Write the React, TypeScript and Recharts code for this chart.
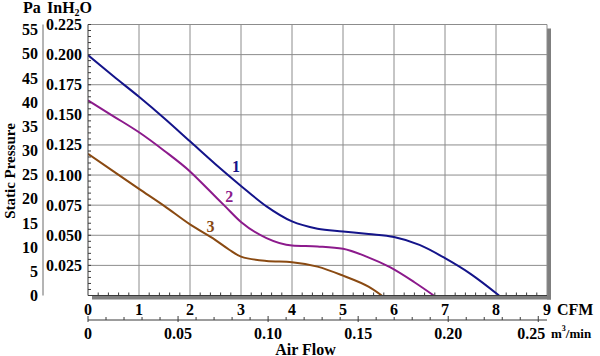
import { LineChart, Line, XAxis, YAxis, ReferenceLine, ReferenceArea, ReferenceDot, Label } from 'recharts';

/* fan P-Q curves: static pressure (inH2O / Pa) against air flow (CFM / m³/min) */

const CFM_PER_M3 = 35.3147;
const PA_PER_IN = 249.09;

const CFM_TICKS = [0, 1, 2, 3, 4, 5, 6, 7, 8, 9];
const M3_TICKS = [0, 0.05, 0.1, 0.15, 0.2, 0.25];
const M3_LABELS = ['0', '0.05', '0.10', '0.15', '0.20', '0.25'];
const IN_TICKS = [0.025, 0.05, 0.075, 0.1, 0.125, 0.15, 0.175, 0.2, 0.225];
const IN_LABELS = ['0.025', '0.050', '0.075', '0.100', '0.125', '0.150', '0.175', '0.200', '0.225'];
const PA_TICKS = [0, 5, 10, 15, 20, 25, 30, 35, 40, 45, 50, 55];

// curve 1
const C1_CFM = [0, 0.5, 1, 1.5, 2, 2.5, 3, 3.5, 4, 4.5, 5, 5.5, 6, 6.5, 7, 7.5, 8.06];
const C1_IN = [0.1995, 0.182, 0.165, 0.147, 0.128, 0.109, 0.091, 0.074, 0.0615, 0.0555, 0.0532, 0.051, 0.0485, 0.042, 0.031, 0.018, 0];
// curve 2
const C2_CFM = [0, 0.5, 1, 1.5, 2, 2.36, 2.69, 3, 3.5, 4, 4.5, 5, 5.46, 5.92, 6.4, 6.78];
const C2_IN = [0.162, 0.1488, 0.1355, 0.12, 0.103, 0.088, 0.074, 0.061, 0.0477, 0.0415, 0.0407, 0.0388, 0.0323, 0.0235, 0.011, 0];
// curve 3
const C3_CFM = [0, 0.5, 1, 1.5, 2, 2.5, 2.77, 3, 3.5, 4, 4.5, 5, 5.5, 5.76];
const C3_IN = [0.1177, 0.103, 0.0885, 0.0742, 0.059, 0.046, 0.038, 0.0323, 0.0287, 0.0277, 0.024, 0.0165, 0.0073, 0];

const CURVE_NAMES = ['1', '2', '3'];
const CURVE_COLORS = ['#14148a', '#8c1a8c', '#8a4a12'];
const NAME_CFM = [2.9, 2.77, 2.4];
const NAME_IN = [0.107, 0.082, 0.057];

const toRows = (xs: number[], ys: number[]) => xs.map((x, i) => ({ cfm: x, m3: x / CFM_PER_M3, p: ys[i] }));
const CURVES = [toRows(C1_CFM, C1_IN), toRows(C2_CFM, C2_IN), toRows(C3_CFM, C3_IN)];

const steps = (max: number, step: number): number[] =>
  Array.from({ length: Math.round(max / step) + 1 }, (_, i) => Math.round(i * step * 1e4) / 1e4);
const near = (a: number, b: number) => Math.abs(a - b) < 1e-6;

const FONT = '"Liberation Serif", "Times New Roman", serif';
const TXT = { fontFamily: FONT, fontWeight: 700, fontSize: 16, fill: '#000' } as const;
const GRID = '#8c8c8c';
const AXIS = '#3a3a3a';

const CfmTick = (p: any) => {
  const i = CFM_TICKS.findIndex((t) => near(t, p.payload.value));
  if (i >= 0) {
    return (
      <text x={p.x} y={p.y + 14} textAnchor="middle" dominantBaseline="central" style={TXT}>
        {String(CFM_TICKS[i])}
      </text>
    );
  }
  return <line x1={p.x} x2={p.x} y1={p.y} y2={p.y - 3} stroke={AXIS} />;
};

const M3Tick = (p: any) => {
  const i = M3_TICKS.findIndex((t) => near(t, p.payload.value));
  const last = i === M3_TICKS.length - 1;
  return (
    <g>
      <line x1={p.x} x2={p.x} y1={p.y - (i >= 0 ? 4 : 3)} y2={p.y + (i >= 0 ? 2 : 0)} stroke={AXIS} />
      {i >= 0 && (
        // the last label leans left so it clears the unit
        <text x={last ? p.x + 7 : p.x} y={p.y + 13} textAnchor={last ? 'end' : 'middle'} dominantBaseline="central" style={TXT}>
          {M3_LABELS[i]}
        </text>
      )}
    </g>
  );
};

const InTick = (p: any) => {
  const i = IN_TICKS.findIndex((t) => near(t, p.payload.value));
  return (
    <g>
      <line x1={p.x} x2={p.x + 3} y1={p.y} y2={p.y} stroke={AXIS} />
      {i >= 0 && (
        <text x={p.x - 6} y={p.y} textAnchor="end" dominantBaseline="central" style={TXT}>
          {IN_LABELS[i]}
        </text>
      )}
    </g>
  );
};

const CfmUnit = ({ viewBox }: any) => (
  <text x={viewBox.x + viewBox.width + 10} y={viewBox.y + 14} dominantBaseline="central" style={TXT}>
    CFM
  </text>
);

const M3Unit = ({ viewBox }: any) => (
  <g>
    <text x={viewBox.x + viewBox.width + 4} y={viewBox.y + 13} dominantBaseline="central" style={{ ...TXT, fontSize: 13 }}>
      m<tspan fontSize={8} dy={-5}>3</tspan>
      <tspan dy={5}>/min</tspan>
    </text>
    <text x={viewBox.x + viewBox.width / 2 - 12} y={viewBox.y + 29} textAnchor="middle" dominantBaseline="central" style={TXT}>
      Air Flow
    </text>
  </g>
);

const InUnit = ({ viewBox }: any) => (
  <text x={viewBox.x + 4} y={viewBox.y - 12} style={TXT}>
    InH<tspan fontSize={10} dy={3}>2</tspan>
    <tspan dy={-3}>O</tspan>
  </text>
);

const PaUnit = ({ viewBox }: any) => {
  const cx = viewBox.x + 10;
  const cy = viewBox.y + viewBox.height / 2 + 11;
  return (
    <g>
      <text x={viewBox.x + 23} y={viewBox.y - 12} style={TXT}>
        Pa
      </text>
      <text x={cx} y={cy} transform={`rotate(-90 ${cx} ${cy})`} textAnchor="middle" dominantBaseline="central" style={{ ...TXT, fontSize: 15 }}>
        Static Pressure
      </text>
    </g>
  );
};

// drop shadow right and under the plot frame
const FrameShadow = ({ x, y, width, height }: any) => (
  <g fill="#7f7f7f">
    <rect x={x + width} y={y + 4} width={4} height={height} />
    <rect x={x + 4} y={y + height} width={width} height={4} />
  </g>
);

export default function App() {
  return (
    <div style={{ width: 600, height: 356, background: '#fff' }}>
      <style>{'body{margin:0}'}</style>
      <LineChart width={600} height={356} margin={{ top: 24.5, right: 53, bottom: 0, left: 0 }}>
        <XAxis
          xAxisId="cfm"
          type="number"
          dataKey="cfm"
          domain={[0, 9]}
          ticks={steps(9, 0.2)}
          interval={0}
          tickSize={0}
          tickMargin={0}
          tickLine={false}
          tick={CfmTick}
          axisLine={{ stroke: AXIS }}
          height={24.5}
          allowDataOverflow
        >
          <Label content={CfmUnit} />
        </XAxis>
        <XAxis
          xAxisId="m3"
          type="number"
          dataKey="m3"
          domain={[0, 9 / CFM_PER_M3]}
          ticks={steps(0.25, 0.01)}
          interval={0}
          tickSize={0}
          tickMargin={0}
          tickLine={false}
          tick={M3Tick}
          axisLine={{ stroke: AXIS }}
          height={36}
          allowDataOverflow
        >
          <Label content={M3Unit} />
        </XAxis>
        <YAxis
          yAxisId="in"
          type="number"
          domain={[0, 0.225]}
          ticks={steps(0.225, 0.005)}
          interval={0}
          tickSize={0}
          tickMargin={0}
          tickLine={false}
          tick={InTick}
          axisLine={{ stroke: AXIS }}
          width={45}
          allowDataOverflow
        >
          <Label content={InUnit} />
        </YAxis>
        <YAxis
          yAxisId="pa"
          type="number"
          domain={[0, 0.225 * PA_PER_IN]}
          ticks={PA_TICKS}
          interval={0}
          tickSize={0}
          tickMargin={5}
          tickLine={false}
          tick={TXT}
          axisLine={{ stroke: '#6a6a6a' }}
          width={43}
          allowDataOverflow
        >
          <Label content={PaUnit} />
        </YAxis>

        <ReferenceArea xAxisId="cfm" yAxisId="in" x1={0} x2={9} y1={0} y2={0.225} ifOverflow="visible" shape={FrameShadow} />
        {CFM_TICKS.slice(1).map((v) => (
          <ReferenceLine key={`x${v}`} xAxisId="cfm" yAxisId="in" x={v} stroke={GRID} />
        ))}
        {IN_TICKS.map((v) => (
          <ReferenceLine key={`y${v}`} xAxisId="cfm" yAxisId="in" y={v} stroke={GRID} />
        ))}

        {/* curve 1 again on the m³/min scale, invisible: gives that axis its scale */}
        <Line xAxisId="m3" yAxisId="in" data={CURVES[0]} dataKey="p" stroke="none" dot={false} activeDot={false} isAnimationActive={false} />
        {CURVES.map((rows, i) => (
          <Line
            key={CURVE_NAMES[i]}
            xAxisId="cfm"
            yAxisId="in"
            data={rows}
            dataKey="p"
            type="monotone"
            stroke={CURVE_COLORS[i]}
            strokeWidth={2}
            dot={false}
            activeDot={false}
            isAnimationActive={false}
          />
        ))}
        {CURVE_NAMES.map((n, i) => (
          <ReferenceDot
            key={`n${n}`}
            xAxisId="cfm"
            yAxisId="in"
            x={NAME_CFM[i]}
            y={NAME_IN[i]}
            r={0}
            shape={(p: any) => (
              <text x={p.cx} y={p.cy} textAnchor="middle" dominantBaseline="central" style={{ ...TXT, fill: CURVE_COLORS[i] }}>
                {n}
              </text>
            )}
          />
        ))}
      </LineChart>
    </div>
  );
}
